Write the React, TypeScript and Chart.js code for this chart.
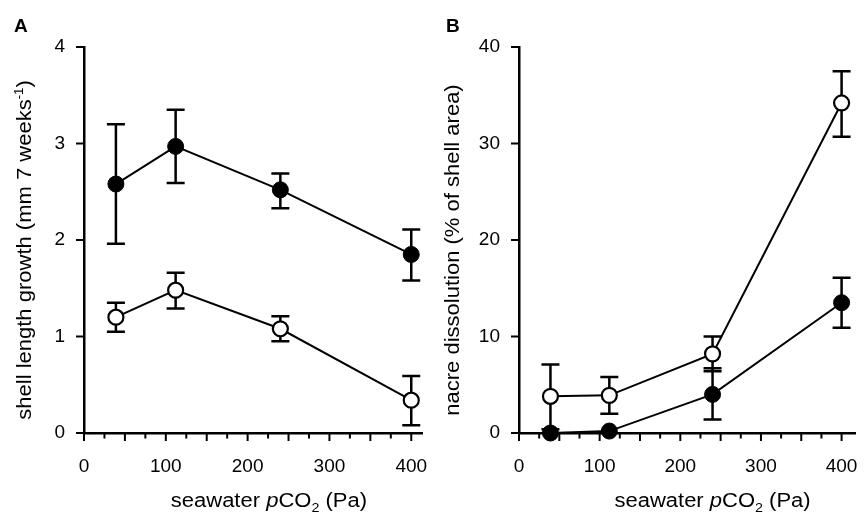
import React, { useEffect, useRef } from 'react';
import { Chart, registerables } from 'chart.js';

Chart.register(...registerables);

// ---------- data ----------
const pco2 = [39, 112, 240, 400];
const xTicks = [0, 100, 200, 300, 400];

const growthTicks = [0, 1, 2, 3, 4];
const growthFilled = [2.58, 2.97, 2.52, 1.85];
const growthFilledUpper = [3.2, 3.35, 2.69, 2.11];
const growthFilledLower = [1.96, 2.59, 2.33, 1.58];
const growthOpen = [1.2, 1.48, 1.08, 0.34];
const growthOpenUpper = [1.35, 1.66, 1.21, 0.59];
const growthOpenLower = [1.05, 1.29, 0.95, 0.08];

const dissTicks = [0, 10, 20, 30, 40];
const dissFilled = [0, 0.2, 4.0, 13.5];
const dissFilledUpper: (number | null)[] = [null, null, 6.7, 16.1];
const dissFilledLower: (number | null)[] = [null, null, 1.4, 10.9];
const dissOpen = [3.8, 3.9, 8.2, 34.2];
const dissOpenUpper = [7.1, 5.8, 10.0, 37.5];
const dissOpenLower = [0.4, 2.0, 6.4, 30.7];

const xTitleParts = ['seawater ', 'p', 'CO', '2', ' (Pa)'];
const growthTitle = ['shell length growth (mm 7 weeks', '-1', ')'];
const dissTitle = ['nacre dissolution (% of shell area)'];

const FAM = '"Liberation Sans", Arial, Helvetica, sans-serif';

type Seg = { t: string; italic?: boolean; size?: number; dy?: number };

function drawSegs(ctx: CanvasRenderingContext2D, segs: Seg[], size: number, stretch: number) {
  const fontOf = (s: Seg) => `${s.italic ? 'italic ' : ''}${s.size ?? size}px ${FAM}`;
  let total = 0;
  for (const s of segs) {
    ctx.font = fontOf(s);
    total += ctx.measureText(s.t).width;
  }
  ctx.scale(stretch, 1);
  let x = -total / 2;
  ctx.textAlign = 'left';
  ctx.textBaseline = 'alphabetic';
  ctx.fillStyle = '#000';
  for (const s of segs) {
    ctx.font = fontOf(s);
    ctx.fillText(s.t, x, s.dy ?? 0);
    x += ctx.measureText(s.t).width;
  }
}

type PanelProps = {
  letter: string;
  left: number;
  width: number;
  xMax: number;
  yMax: number;
  yTicks: number[];
  filled: number[];
  filledUpper: (number | null)[];
  filledLower: (number | null)[];
  open: number[];
  openUpper: (number | null)[];
  openLower: (number | null)[];
  yTitle: Seg[];
  yTitleX: number;
  xTitleCenter: number;
  axisLeft: number;
  padRight: number;
};

function Panel(p: PanelProps) {
  const ref = useRef<HTMLCanvasElement>(null);
  useEffect(() => {
    const canvas = ref.current!;
    const decor = {
      id: 'decor',
      beforeDatasetsDraw(chart: any) {
        const ctx: CanvasRenderingContext2D = chart.ctx;
        const xs = chart.scales.x;
        const ys = chart.scales.y;
        const { left, bottom } = chart.chartArea;
        ctx.save();
        ctx.strokeStyle = '#000';
        ctx.lineCap = 'butt';
        ctx.lineWidth = 2;
        for (let v = 0; v <= 400; v += 25) {
          const px = xs.getPixelForValue(v);
          const len = v % 50 === 0 ? 8 : 5.5;
          ctx.beginPath();
          ctx.moveTo(px, bottom);
          ctx.lineTo(px, bottom + len);
          ctx.stroke();
        }
        for (const t of p.yTicks) {
          const py = ys.getPixelForValue(t);
          ctx.beginPath();
          ctx.moveTo(left - 8, py);
          ctx.lineTo(left, py);
          ctx.stroke();
        }
        ctx.lineWidth = 2.5;
        const sets = [
          { u: p.filledUpper, l: p.filledLower },
          { u: p.openUpper, l: p.openLower },
        ];
        for (const s of sets) {
          s.u.forEach((u, i) => {
            const lo = s.l[i];
            if (u == null || lo == null) return;
            const px = xs.getPixelForValue(pco2[i]);
            const pu = ys.getPixelForValue(u);
            const pl = ys.getPixelForValue(lo);
            ctx.beginPath();
            ctx.moveTo(px, pu);
            ctx.lineTo(px, pl);
            ctx.moveTo(px - 9, pu);
            ctx.lineTo(px + 9, pu);
            ctx.moveTo(px - 9, pl);
            ctx.lineTo(px + 9, pl);
            ctx.stroke();
          });
        }
        ctx.restore();
      },
      afterDraw(chart: any) {
        const ctx: CanvasRenderingContext2D = chart.ctx;
        const xs = chart.scales.x;
        // panel letter
        ctx.save();
        ctx.fillStyle = '#000';
        ctx.font = `bold 19px ${FAM}`;
        ctx.textAlign = 'left';
        ctx.textBaseline = 'alphabetic';
        ctx.fillText(p.letter, 14, 32);
        ctx.restore();
        // x title
        ctx.save();
        ctx.translate(xs.getPixelForValue(p.xTitleCenter), 507);
        drawSegs(
          ctx,
          [
            { t: xTitleParts[0] },
            { t: xTitleParts[1], italic: true },
            { t: xTitleParts[2] },
            { t: xTitleParts[3], size: 13, dy: 5 },
            { t: xTitleParts[4] },
          ],
          20,
          1.1
        );
        ctx.restore();
        // y title
        ctx.save();
        ctx.translate(p.yTitleX, 250);
        ctx.rotate(-Math.PI / 2);
        drawSegs(ctx, p.yTitle, 20, 1.1);
        ctx.restore();
      },
    };

    const chart = new Chart(canvas, {
      type: 'line',
      data: {
        datasets: [
          {
            data: pco2.map((x, i) => ({ x, y: p.filled[i] })),
            borderColor: '#000',
            backgroundColor: '#000',
            borderWidth: 2,
            pointRadius: 8,
            pointBackgroundColor: '#000',
            pointBorderColor: '#000',
            pointBorderWidth: 1,
            tension: 0,
            clip: false as any,
          },
          {
            data: pco2.map((x, i) => ({ x, y: p.open[i] })),
            borderColor: '#000',
            backgroundColor: '#fff',
            borderWidth: 2,
            pointRadius: 7.5,
            pointBackgroundColor: '#fff',
            pointBorderColor: '#000',
            pointBorderWidth: 2.2,
            tension: 0,
            clip: false as any,
          },
        ],
      },
      options: {
        animation: false,
        responsive: false,
        maintainAspectRatio: false,
        layout: { padding: { top: 47, right: p.padRight, left: 0, bottom: 0 } },
        plugins: { legend: { display: false }, tooltip: { enabled: false } },
        scales: {
          x: {
            type: 'linear',
            min: 0,
            max: p.xMax,
            afterBuildTicks: (s: any) => {
              s.ticks = xTicks.map((v) => ({ value: v }));
            },
            afterFit: (s: any) => {
              s.height = 518 - 433;
              s.paddingLeft = 0;
              s.paddingRight = 0;
            },
            grid: { display: false, drawTicks: false },
            border: { display: true, color: '#000', width: 2.5 },
            ticks: {
              color: '#000',
              font: { family: FAM, size: 19 },
              padding: 22,
              maxRotation: 0,
              autoSkip: false,
            },
          },
          y: {
            type: 'linear',
            min: 0,
            max: p.yMax,
            afterBuildTicks: (s: any) => {
              s.ticks = p.yTicks.map((v) => ({ value: v }));
            },
            afterFit: (s: any) => {
              s.width = p.axisLeft;
              s.paddingTop = 0;
              s.paddingBottom = 0;
            },
            grid: { display: false, drawTicks: false },
            border: { display: true, color: '#000', width: 2.5 },
            ticks: {
              color: '#000',
              font: { family: FAM, size: 19 },
              padding: 19,
              autoSkip: false,
            },
          },
        },
      },
      plugins: [decor],
    } as any);
    return () => chart.destroy();
  }, []);
  return (
    <canvas
      ref={ref}
      width={p.width}
      height={518}
      style={{ position: 'absolute', left: p.left, top: 0, width: p.width, height: 518, display: 'block' }}
    />
  );
}

export default function App() {
  return (
    <div style={{ position: 'absolute', left: 0, top: 0, width: 865, height: 518, background: '#fff', overflow: 'hidden' }}>
      <Panel
        letter="A"
        left={0}
        width={432}
        xMax={413.5}
        yMax={4}
        yTicks={growthTicks}
        filled={growthFilled}
        filledUpper={growthFilledUpper}
        filledLower={growthFilledLower}
        open={growthOpen}
        openUpper={growthOpenUpper}
        openLower={growthOpenLower}
        yTitle={[{ t: growthTitle[0] }, { t: growthTitle[1], size: 12, dy: -8 }, { t: growthTitle[2] }]}
        yTitleX={31}
        xTitleCenter={226}
        axisLeft={84}
        padRight={8}
      />
      <Panel
        letter="B"
        left={432}
        width={433}
        xMax={417}
        yMax={40}
        yTicks={dissTicks}
        filled={dissFilled}
        filledUpper={dissFilledUpper}
        filledLower={dissFilledLower}
        open={dissOpen}
        openUpper={dissOpenUpper}
        openLower={dissOpenLower}
        yTitle={[{ t: dissTitle[0] }]}
        yTitleX={27}
        xTitleCenter={240}
        axisLeft={87}
        padRight={4}
      />
    </div>
  );
}
